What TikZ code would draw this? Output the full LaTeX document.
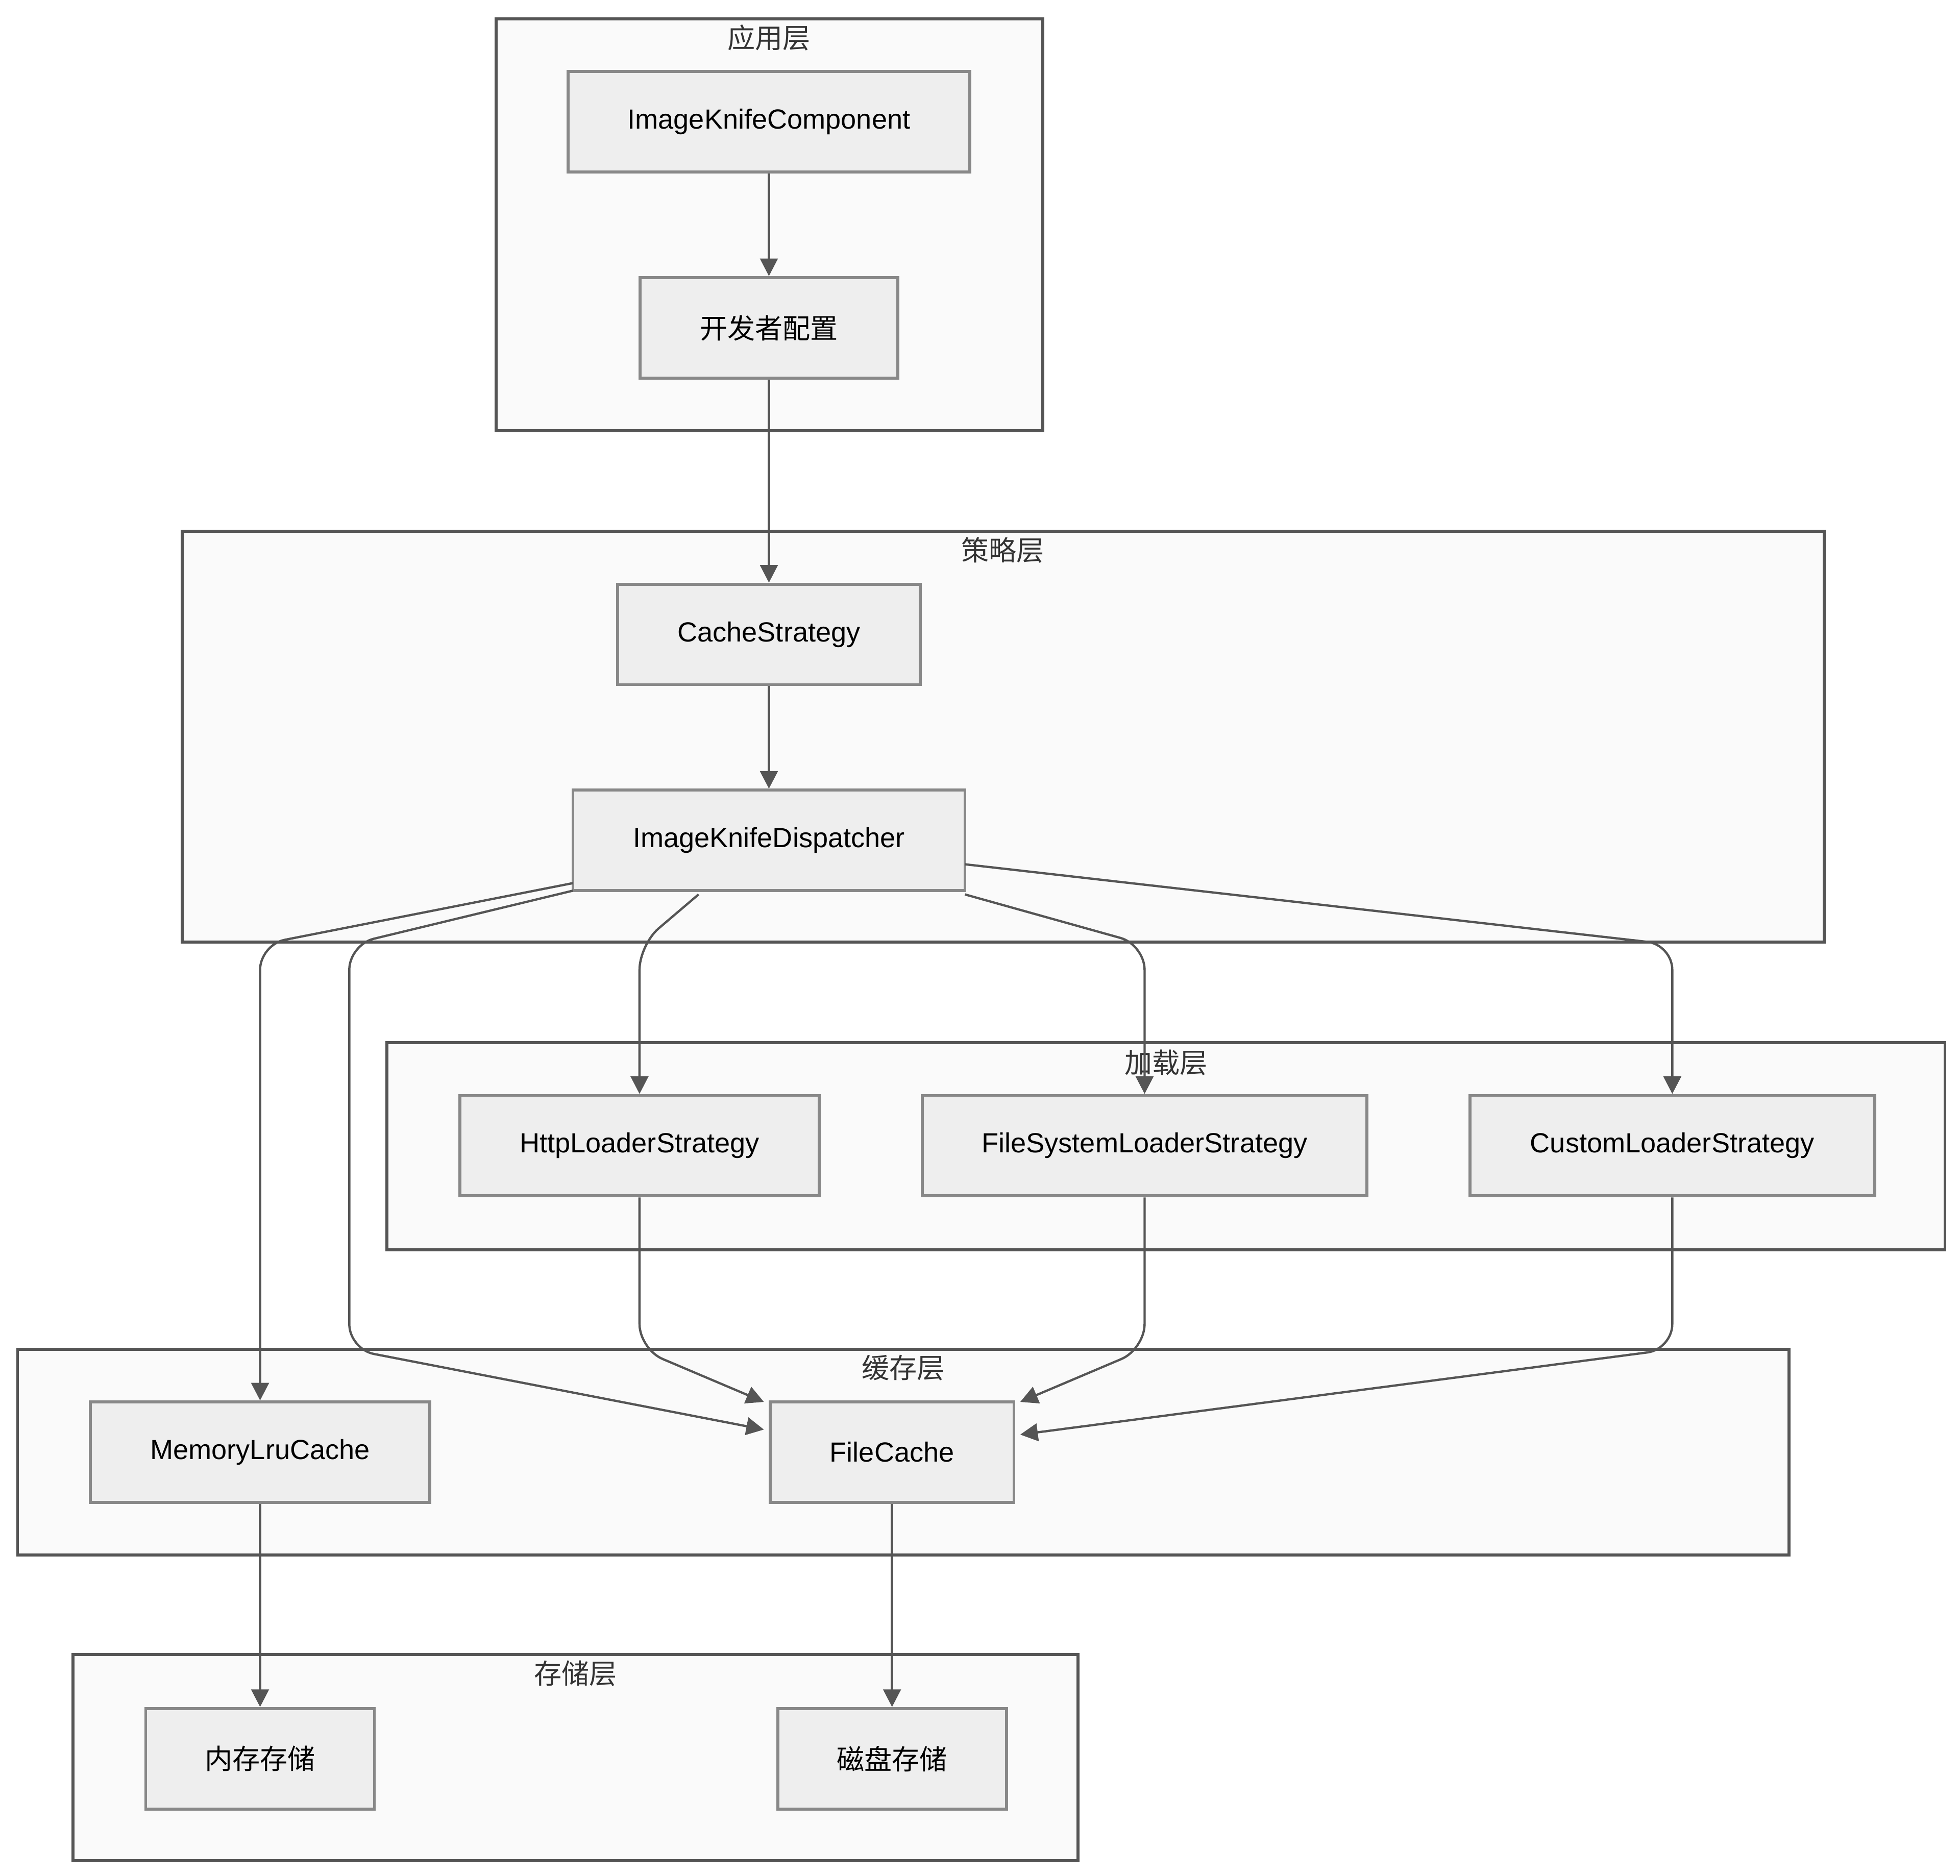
\documentclass[tikz,border=0pt]{standalone}
\usepackage{fontspec}
\setmainfont{Liberation Sans}
\newfontfamily\cjk{Noto Sans CJK SC}
\usetikzlibrary{arrows.meta}
\definecolor{nodefill}{HTML}{EEEEEE}
\definecolor{nodedraw}{HTML}{888888}
\definecolor{clfill}{HTML}{FAFAFA}
\definecolor{cldraw}{HTML}{555555}
\definecolor{edge}{HTML}{555555}
\begin{document}
\begin{tikzpicture}[x=0.5pt,y=-0.5pt,
  box/.style={draw=nodedraw,fill=nodefill,line width=1.2pt,inner sep=0pt,font=\fontsize{11}{13}\selectfont},
  cbox/.style={box,font=\fontsize{11}{13}\selectfont\cjk},
  cl/.style={draw=cldraw,fill=clfill,line width=1.2pt},
  cltitle/.style={font=\fontsize{11}{13}\selectfont\cjk,text=black!80},
  arr/.style={draw=edge,line width=0.9pt,-{Triangle[length=7pt,width=7pt]},rounded corners=10pt}]
\useasboundingbox (0,0) rectangle (1560,1493);
% clusters
\draw[cl] (395,15) rectangle (830,343);
\node[cltitle] (t1) at (612,30) {应用层};
\draw[cl] (145,423) rectangle (1452,750);
\node[cltitle] (t2) at (798,438) {策略层};
\draw[cl] (308,830) rectangle (1548,995);
\node[cltitle] (t3) at (928,846) {加载层};
\draw[cl] (14,1074) rectangle (1424,1238);
\node[cltitle] (t4) at (719,1089) {缓存层};
\draw[cl] (58,1317) rectangle (858,1481);
\node[cltitle] (t5) at (458,1332) {存储层};
% nodes
\node[box,minimum width=160pt,minimum height=40pt] (ikc) at (612,97) {ImageKnifeComponent};
\node[cbox,minimum width=102.5pt,minimum height=40pt] (dev) at (612,261) {开发者配置};
\node[box,minimum width=120.5pt,minimum height=40pt] (cs) at (612,505) {CacheStrategy};
\node[box,minimum width=156pt,minimum height=40pt] (disp) at (612,669) {ImageKnifeDispatcher};
\node[box,minimum width=143pt,minimum height=40pt] (http) at (509,912) {HttpLoaderStrategy};
\node[box,minimum width=177pt,minimum height=40pt] (fs) at (911,912) {FileSystemLoaderStrategy};
\node[box,minimum width=161pt,minimum height=40pt] (custom) at (1331,912) {CustomLoaderStrategy};
\node[box,minimum width=135pt,minimum height=40pt] (mem) at (207,1156) {MemoryLruCache};
\node[box,minimum width=97pt,minimum height=40pt] (fc) at (710,1156) {FileCache};
\node[cbox,minimum width=91pt,minimum height=40pt] (ms) at (207,1400) {内存存储};
\node[cbox,minimum width=91pt,minimum height=40pt] (ds) at (710,1400) {磁盘存储};
% bend coordinates
\coordinate (a1) at (456,703); \coordinate (a2) at (207,752);
\coordinate (b1) at (456,709); \coordinate (b2) at (278,752); \coordinate (b3) at (278,1074);
\coordinate (c1) at (556,712); \coordinate (c2) at (509,752);
\coordinate (d1) at (768,712); \coordinate (d2) at (911,752);
\coordinate (e1) at (768,688); \coordinate (e2) at (1331,752);
\coordinate (f1) at (509,1074); \coordinate (g1) at (911,1074); \coordinate (h1) at (1331,1074);
\coordinate (fcA) at (608,1116); \coordinate (fcB) at (608,1138);
\coordinate (fcC) at (812,1116); \coordinate (fcD) at (812,1142);
% edges
\draw[arr] (ikc) -- (dev);
\draw[arr] (dev) -- (cs);
\draw[arr] (cs) -- (disp);
\draw[arr] (a1) -- (a2) -- (mem.north);
\draw[arr] (b1) -- (b2) -- (b3) -- (fcB);
\draw[arr] (c1) -- (c2) -- (http.north);
\draw[arr] (d1) -- (d2) -- (fs.north);
\draw[arr] (e1) -- (e2) -- (custom.north);
\draw[arr] (http.south) -- (f1) -- (fcA);
\draw[arr] (fs.south) -- (g1) -- (fcC);
\draw[arr] (custom.south) -- (h1) -- (fcD);
\draw[arr] (mem) -- (ms);
\draw[arr] (fc) -- (ds);
\end{tikzpicture}
\end{document}
